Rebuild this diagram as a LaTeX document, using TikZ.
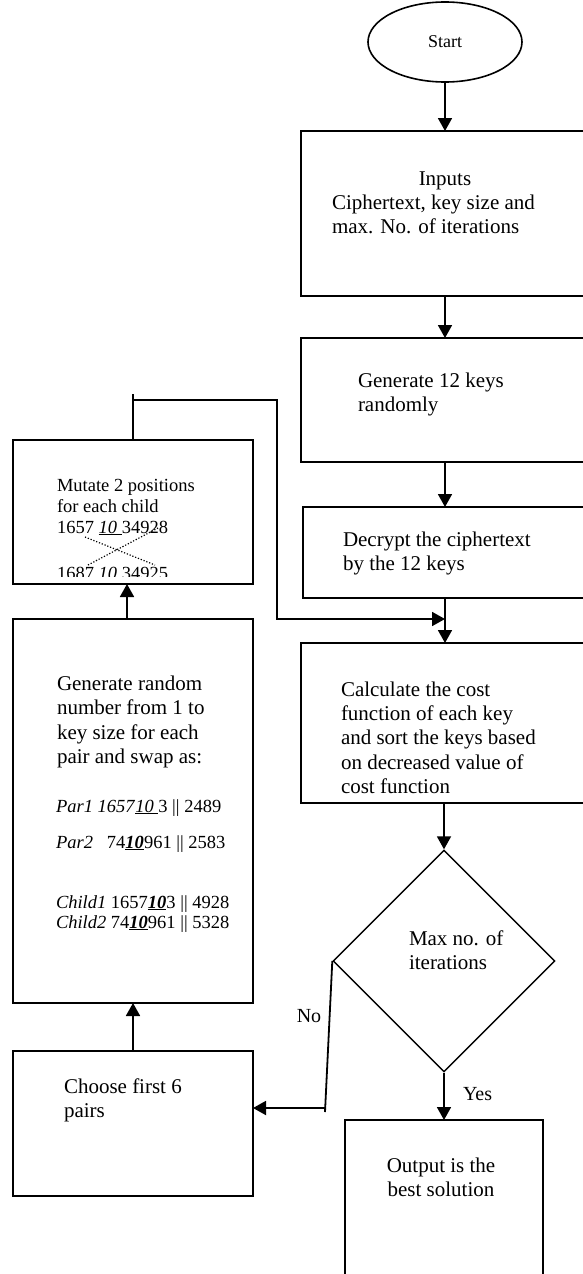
\documentclass[tikz,border=0pt]{standalone}
\usepackage{fontspec}
\setmainfont{Liberation Serif}
\usetikzlibrary{arrows.meta,shapes.geometric}
\newcommand{\tb}[1]{\begin{tabular}[t]{@{}l@{}}#1\end{tabular}}
\newcommand{\tbc}[1]{\begin{tabular}[t]{@{}c@{}}#1\end{tabular}}
\newcommand{\bu}[1]{\underline{\textbf{\textit{#1}}}}
\begin{document}
\begin{tikzpicture}[x=1pt,y=-1pt,line join=miter,
  box/.style={draw,line width=1.8pt,rectangle,inner sep=0pt,outer sep=0pt},
  lbl/.style={inner sep=0pt,outer sep=0pt,anchor=base west,font=\fontsize{21}{24.5}\selectfont},
  sm/.style={inner sep=0pt,outer sep=0pt,anchor=base west,font=\fontsize{18.5}{21}\selectfont},
  ln/.style={line width=1.8pt},
  arr/.style={line width=1.8pt,-{Triangle[length=13pt,width=14pt]}},
  dots/.style={line width=1.2pt,dash pattern=on 1.2pt off 1.8pt}]
\useasboundingbox (0,0) rectangle (583,1274);
\clip (0,0) rectangle (583,1274);
\fill[white] (0,0) rectangle (583,1274);
\coordinate (ax) at (445,0);

% right column
\node[ellipse,draw,line width=1.6pt,minimum width=154pt,minimum height=80pt,inner sep=0pt,
      font=\fontsize{18}{20}\selectfont] (start) at (445,42) {Start};
\node[box,minimum width=299pt,minimum height=165pt] (inputs) at (450.5,213.5) {};
\node[box,minimum width=299pt,minimum height=124pt] (gen12) at (450.5,400) {};
\node[box,minimum width=297pt,minimum height=91pt] (decrypt) at (451.5,552.5) {};
\node[box,minimum width=299pt,minimum height=160pt] (calc) at (450.5,723) {};
\node[diamond,draw,line width=1.4pt,minimum width=222pt,minimum height=222pt,inner sep=0pt] (dia) at (444,961) {};
\node[box,minimum width=198pt,minimum height=180pt] (output) at (444,1210) {};

% left column
\node[box,minimum width=240pt,minimum height=144pt] (mutate) at (133,512) {};
\node[box,minimum width=240pt,minimum height=384pt] (genrand) at (133,811) {};
\node[box,minimum width=240pt,minimum height=145pt] (choose) at (133,1123.5) {};

% texts
\node[lbl,anchor=base] (inputsT) at (445,185) {Inputs};
\node[lbl] (inputsB) at (332,209) {\tb{Ciphertext, key size and\\max. No. of iterations}};
\node[lbl] (gen12T) at (358,387) {\tb{Generate 12 keys\\randomly}};
\node[lbl] (decryptT) at (343,546) {\tb{Decrypt the ciphertext\\by the 12 keys}};
\begin{scope}
\clip (301,643) rectangle (583,793);
\node[lbl,font=\fontsize{21}{24.4}\selectfont] (calcT) at (341,696)
  {\tb{Calculate the cost\\function of each key\\and sort the keys based\\on decreased value of\\cost function}};
\end{scope}
\node[lbl] (diaT) at (409,945) {\tb{Max no. of\\iterations}};
\node[lbl,anchor=base] (outT) at (441,1172) {\tbc{Output is the\\best solution}};
\node[lbl,anchor=base,font=\fontsize{20}{24}\selectfont] (noT) at (309,1022) {No};
\node[lbl,font=\fontsize{20}{24}\selectfont] (yesT) at (463,1100) {Yes};

\node[sm] (mutT) at (57,491) {\tb{Mutate 2 positions\\for each child\\1657 \underline{\textit{10 }}34928}};
\begin{scope}
\clip (13,560) rectangle (253,576.5);
\node[sm] (mutT2) at (57,579) {1687 \textit{10} 34925};
\end{scope}
\draw[dots] (85,537) -- (155,565);
\draw[dots] (88,565) -- (158,528);

\node[lbl] (genrandT) at (57,690) {\tb{Generate random\\number from 1 to\\key size for each\\pair and swap as:}};
\node[sm] (par1) at (56,812) {\textit{Par1 1657}\underline{\textit{10 }}3 || 2489};
\node[sm] (par2) at (56,848) {\textit{Par2}\hspace*{14pt}74\bu{10}961 || 2583};
\node[sm] (child1) at (56,908) {\textit{Child1} 1657\bu{10}3 || 4928};
\node[sm] (child2) at (56,928) {\textit{Child2} 74\bu{10}961 || 5328};
\node[lbl] (chooseT) at (64,1093) {\tb{Choose first 6\\pairs}};

% connectors
\draw[arr] (start.south) -- (start.south |- inputs.north);
\draw[arr] (ax |- inputs.south) -- (ax |- gen12.north);
\draw[arr] (ax |- gen12.south) -- (ax |- decrypt.north);
\draw[arr] (ax |- decrypt.south) -- (ax |- calc.north);
\draw[arr] (dia.north |- calc.south) -- (dia.north);
\draw[arr] (dia.south) -- (dia.south |- output.north);
\coordinate (nob) at (325,1108);
\draw[ln] (dia.west) -- (325,1112);
\draw[arr] (nob) -- (choose.east |- nob);
\draw[arr] (choose.north) -- (genrand.south);
\draw[arr] ([xshift=-6pt]genrand.north) -- ([xshift=-6pt]mutate.south);
\coordinate (fb1) at (133,400);
\coordinate (fb2) at (277,400);
\coordinate (fb3) at (277,619);
\draw[ln] (fb1) -- (133,394);
\draw[arr] (mutate.north) -- (fb1) -- (fb2) -- (fb3) -- (ax |- fb3);
\end{tikzpicture}
\end{document}
